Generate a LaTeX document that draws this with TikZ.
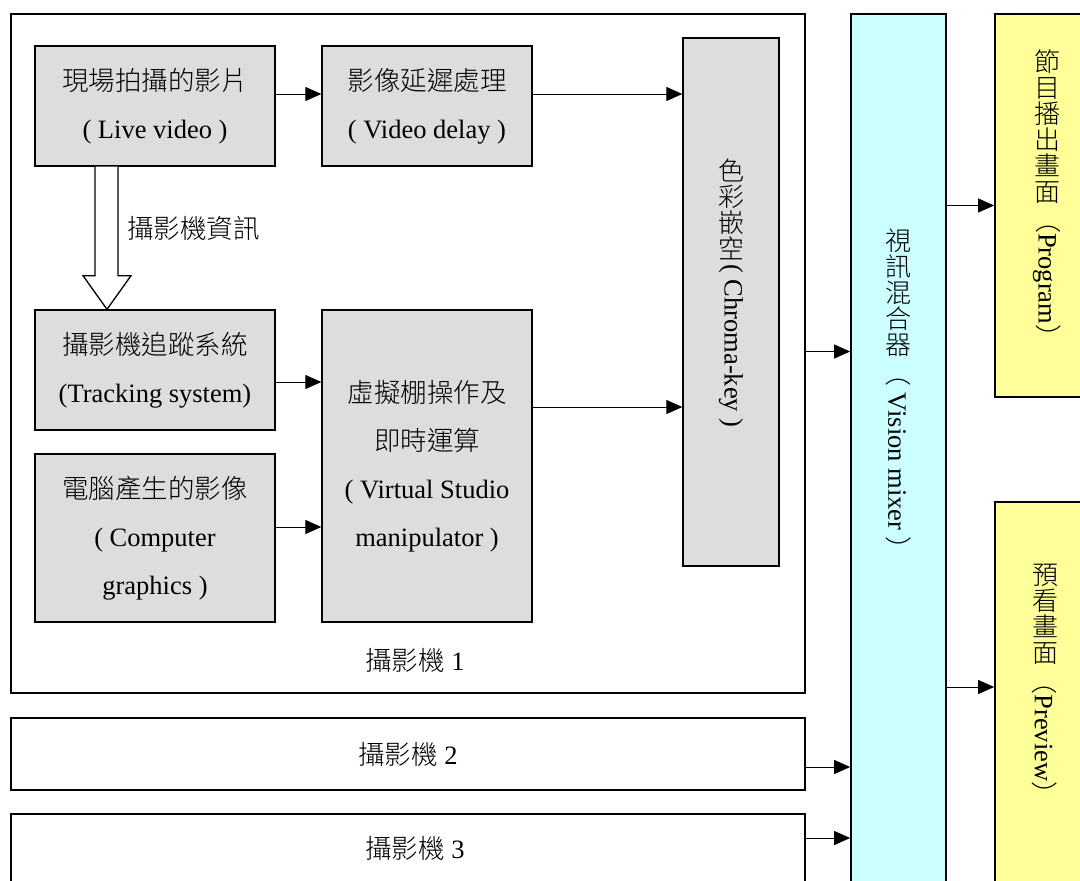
\documentclass[tikz,border=0pt]{standalone}
\usepackage{fontspec}
\setmainfont{Liberation Serif}
\newfontfamily\cjk{Noto Sans CJK TC Light}
\usetikzlibrary{arrows.meta,calc}
\definecolor{boxgray}{HTML}{DDDDDD}
\definecolor{mixcyan}{HTML}{CCFFFF}
\definecolor{outyellow}{HTML}{FFFF99}
\tikzset{
  gbox/.style={draw, line width=1.3pt, fill=boxgray, align=center, inner sep=0pt, font=\fontsize{26.5}{48}\selectfont},
  obox/.style={draw, line width=1.7pt, fill=white, inner sep=0pt, font=\fontsize{26.5}{30}\selectfont},
  vtxt/.style={align=center, inner sep=0pt, font=\cjk\fontsize{26}{26}\selectfont},
  lbl/.style={inner sep=0pt, font=\fontsize{26.5}{30}\selectfont},
  arr/.style={-{Triangle[length=16pt,width=14pt]}, line width=1pt},
}
\begin{document}
\begin{tikzpicture}[x=1pt,y=-1pt]
\useasboundingbox (0,0) rectangle (1080,881);
\clip (0,0) rectangle (1080,881);
% camera 1 frame
\node[obox, minimum width=794pt, minimum height=679pt] (cam1) at (408,353.5) {};
\node[lbl] (cam1lbl) at (415,660) {{\cjk 攝影機} 1};
% inner boxes
\node[gbox, minimum width=240pt, minimum height=120pt] (live) at (155,106) {{\cjk 現場拍攝的影片}\\( Live video )};
\node[gbox, minimum width=210pt, minimum height=120pt] (delay) at (427,106) {{\cjk 影像延遲處理}\\( Video delay )};
\node[gbox, minimum width=96pt, minimum height=528pt] (chroma) at (731,302) {};
\node[vtxt] (chromatext) at (731,293) {色\\彩\\嵌\\空\\[-20pt]\rotatebox{-90}{\rmfamily\fontsize{26.5}{30}\selectfont( Chroma-key )}};
\node[gbox, minimum width=240pt, minimum height=120pt] (track) at (155,370) {{\cjk 攝影機追蹤系統}\\(Tracking system)};
\node[gbox, minimum width=240pt, minimum height=168pt] (cg) at (155,538) {{\cjk 電腦產生的影像}\\( Computer\\graphics )};
\node[gbox, minimum width=210pt, minimum height=312pt] (vs) at (427,466) {{\cjk 虛擬棚操作及}\\{\cjk 即時運算}\\( Virtual Studio\\manipulator )};
% hollow arrow
\draw[line width=1.3pt, fill=white] ($(live.south)+(-60,0)$) -- ($(live.south)+(-60,109)$) -- ($(live.south)+(-72,109)$) -- ($(track.north)+(-48,0)$) -- ($(live.south)+(-24,109)$) -- ($(live.south)+(-37,109)$) -- ($(live.south)+(-37,0)$);
\node[lbl, anchor=west] (info) at (127,228) {\cjk 攝影機資訊};
% cameras 2 and 3
\node[obox, minimum width=794pt, minimum height=72pt] (cam2) at (408,754) {{\cjk 攝影機} 2};
\node[obox, minimum width=794pt, minimum height=72pt] (cam3) at (408,850) {};
\node[lbl] (cam3lbl) at (415,848) {{\cjk 攝影機} 3};
% mixer and outputs
\node[draw, line width=1.7pt, fill=mixcyan, minimum width=95pt, minimum height=900pt, inner sep=0pt] (mixer) at (898.5,464) {};
\node[vtxt] (mixtext) at (898.5,396) {視\\訊\\混\\合\\器\\[-20pt]\rotatebox{-90}{（\rmfamily\fontsize{26.5}{30}\selectfont\ Vision mixer \cjk）}};
\node[draw, line width=1.7pt, fill=outyellow, minimum width=110pt, minimum height=383pt, inner sep=0pt] (program) at (1050,205.5) {};
\node[vtxt] (progtext) at (1047,200) {節\\目\\播\\出\\畫\\面\\[-20pt]\rotatebox{-90}{（\rmfamily\fontsize{26.5}{30}\selectfont Program\cjk）}};
\node[draw, line width=1.7pt, fill=outyellow, minimum width=110pt, minimum height=420pt, inner sep=0pt] (preview) at (1050,712) {};
\node[vtxt] (prevtext) at (1045,686) {預\\看\\畫\\面\\[-20pt]\rotatebox{-90}{（\rmfamily\fontsize{26.5}{30}\selectfont Preview\cjk）}};
% connectors
\draw[arr] ([yshift=12pt]live.east) -- ([yshift=12pt]delay.west);
\draw[arr] ([yshift=12pt]delay.east) -- ($(delay.east -| chroma.west)+(0,-12)$);
\draw[arr] ($(track.east)+(0,12)$) -- ($(track.east -| vs.west)+(0,12)$);
\draw[arr] ($(cg.east)+(0,-11)$) -- ($(cg.east -| vs.west)+(0,-11)$);
\draw[arr] ($(vs.east)+(0,-59)$) -- ($(vs.east -| chroma.west)+(0,-59)$);
\draw[arr] ($(cam1.east)+(0,-2)$) -- ($(cam1.east -| mixer.west)+(0,-2)$);
\draw[arr] ($(cam2.east)+(0,13)$) -- ($(cam2.east -| mixer.west)+(0,13)$);
\draw[arr] ($(cam3.east)+(0,-12)$) -- ($(cam3.east -| mixer.west)+(0,-12)$);
\draw[arr] (program.west -| mixer.east) -- (program.west);
\draw[arr] ($(preview.west -| mixer.east)+(0,-25)$) -- ($(preview.west)+(0,-25)$);
\end{tikzpicture}
\end{document}
